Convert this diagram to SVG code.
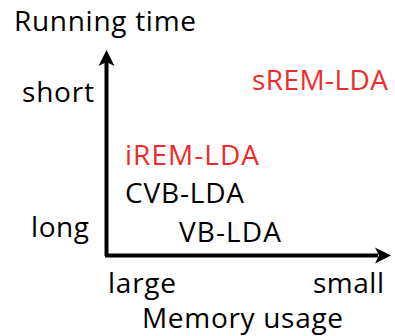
<svg xmlns="http://www.w3.org/2000/svg" width="395" height="336" viewBox="0 0 395 336">
<style>
text{font-family:"Open Sans","Liberation Sans",sans-serif;font-size:28px;fill:#000}
.red{fill:#ee2a2a}
.ax{stroke:#000;stroke-width:4;fill:none}
</style>
<rect width="395" height="336" fill="#fff"/>
<g id="connectors">
<path class="ax" d="M106.5,62 L106.5,256"/>
<path class="ax" d="M105,255.5 L378,255.5"/>
<path d="M106.5,50 L98.5,66 L106.5,62 L114.5,66 Z" fill="#000"/>
<path d="M391,255.5 L375,247.5 L379,255.5 L375,263.5 Z" fill="#000"/>
</g>
<g id="labels">
<text x="14" y="31" textLength="182">Running time</text>
<text x="22" y="102" textLength="72">short</text>
<text x="31" y="237" textLength="58">long</text>
<text x="108" y="293" textLength="68">large</text>
<text x="313" y="293" textLength="71">small</text>
<text x="142" y="328" textLength="201">Memory usage</text>
</g>
<g id="sREM"><text class="red" x="252" y="90" textLength="136">sREM-LDA</text></g>
<g id="iREM"><text class="red" x="125" y="165" textLength="134">iREM-LDA</text></g>
<g id="CVB"><text x="125" y="203" textLength="119">CVB-LDA</text></g>
<g id="VB"><text x="179" y="242" textLength="102">VB-LDA</text></g>
</svg>
